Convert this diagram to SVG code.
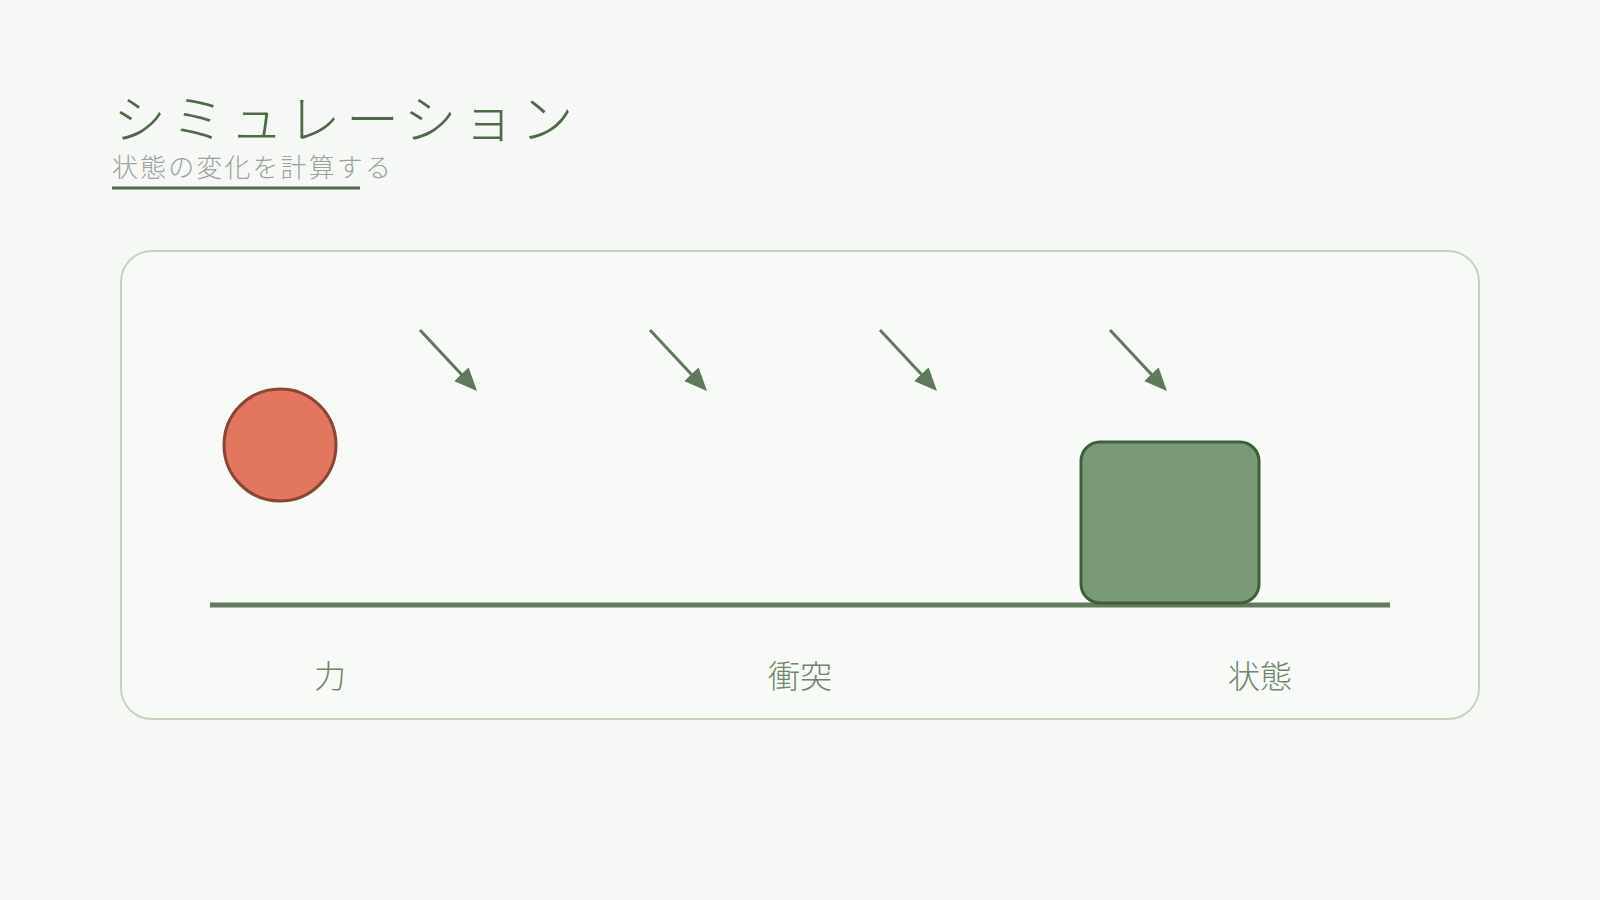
<svg xmlns="http://www.w3.org/2000/svg" width="1600" height="900" viewBox="0 0 1600 900">
  <defs>
    <style>
      .title { font-family: "Noto Sans CJK JP", "Noto Sans", sans-serif; font-weight: 200; fill: #4d6b47; }
      .sub { font-family: "Noto Sans CJK JP", "Noto Sans", sans-serif; font-weight: 200; fill: #9aa39a; }
      .label { font-family: "Noto Sans CJK JP", "Noto Sans", sans-serif; font-weight: 200; fill: #6f866b; font-size: 32px; text-anchor: middle; }
      .force { stroke: #5e7a5a; stroke-width: 3; fill: none; marker-end: url(#head); }
    </style>
    <marker id="head" markerUnits="userSpaceOnUse" markerWidth="24" markerHeight="22" refX="1" refY="10" orient="auto" viewBox="0 0 24 22">
      <path d="M0,0 L23,10 L0,20 z" fill="#5e7a5a"/>
    </marker>
  </defs>
  <rect width="1600" height="900" fill="#f6f8f5"/>

  <g id="header">
    <text class="title" x="113" y="139" font-size="53" letter-spacing="5.5">シミュレーション</text>
    <text class="sub" x="112" y="177" font-size="26" letter-spacing="2.1">状態の変化を計算する</text>
    <line x1="112" y1="188" x2="360" y2="188" stroke="#4a6b45" stroke-width="3"/>
  </g>

  <g id="panel">
    <rect x="121" y="251" width="1358" height="468" rx="31" ry="31" fill="#f8faf7" stroke="#c4d4bc" stroke-width="2"/>
  </g>

  <g id="ground">
    <line x1="210" y1="605" x2="1390" y2="605" stroke="#627b5d" stroke-width="5"/>
  </g>

  <g id="ball">
    <circle cx="280" cy="445" r="56" fill="#e2765e" stroke="#8a4535" stroke-width="3"/>
  </g>

  <g id="block">
    <rect x="1081" y="442" width="178" height="161" rx="19" ry="19" fill="#7a9a77" stroke="#3f5e3c" stroke-width="3"/>
  </g>

  <g id="connectors">
    <line class="force" x1="420" y1="330" x2="462" y2="375"/>
    <line class="force" x1="650" y1="330" x2="692" y2="375"/>
    <line class="force" x1="880" y1="330" x2="922" y2="375"/>
    <line class="force" x1="1110" y1="330" x2="1152" y2="375"/>
  </g>

  <g id="labels">
    <text class="label" x="330" y="688">力</text>
    <text class="label" x="800" y="688">衝突</text>
    <text class="label" x="1260" y="688">状態</text>
  </g>
</svg>
